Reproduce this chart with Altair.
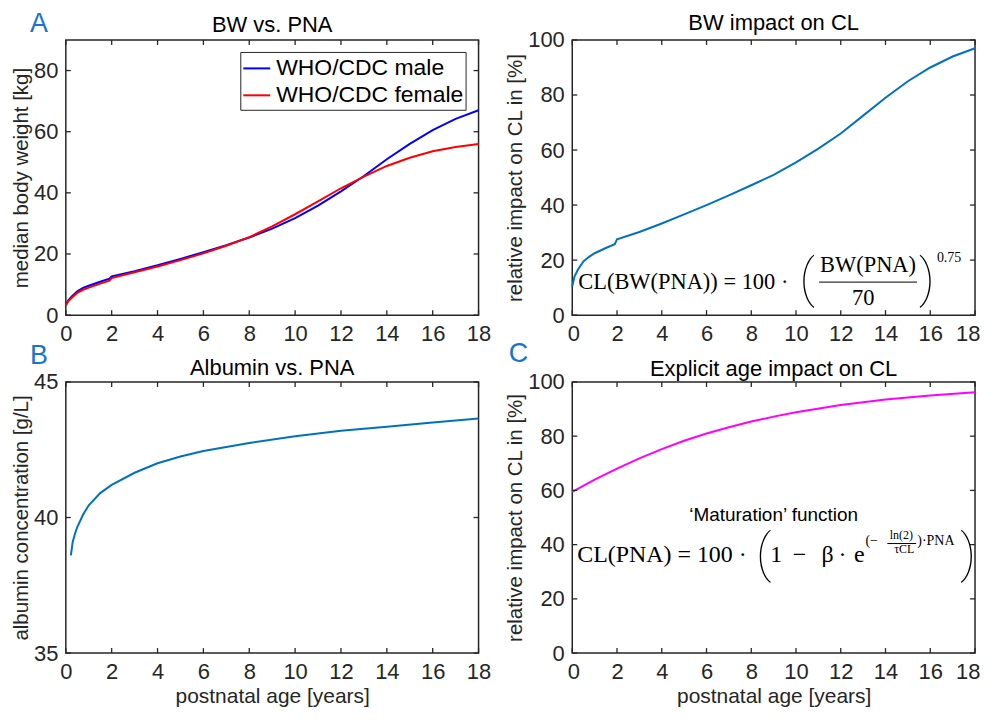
import altair as alt
import pandas as pd

# ---------------- data ----------------
ages_bw = [0, 0.1, 0.25, 0.5, 0.75, 1, 1.5, 1.9, 2, 3, 4, 5, 6, 7, 8, 9, 10, 11, 12, 13, 14, 15, 16, 17, 18]
bw_male = [3.3, 4.8, 6.0, 7.8, 8.9, 9.6, 10.9, 11.9, 12.7, 14.4, 16.3, 18.4, 20.6, 22.9, 25.4, 28.3, 31.7,
           35.8, 40.5, 45.5, 51.0, 56.0, 60.5, 64.2, 67.0]
bw_female = [3.2, 4.5, 5.6, 7.3, 8.3, 9.0, 10.3, 11.3, 12.1, 14.0, 15.9, 18.0, 20.2, 22.7, 25.5, 29.0, 33.0,
             37.2, 41.5, 45.3, 48.8, 51.5, 53.6, 55.0, 56.0]
cl_bw = [10.5, 14.0, 16.5, 19.5, 21.2, 22.5, 24.4, 25.8, 27.6, 30.2, 33.3, 36.6, 40.0, 43.5, 47.2, 51.0, 55.5,
         60.5, 66.0, 72.5, 79.0, 85.0, 90.0, 94.0, 97.0]

ages_alb = [0.22, 0.3, 0.4, 0.5, 0.75, 1, 1.5, 2, 3, 4, 5, 6, 8, 10, 12, 14, 16, 18]
albumin = [38.6, 39.1, 39.4, 39.65, 40.1, 40.45, 40.9, 41.2, 41.65, 42.0, 42.25, 42.45, 42.75, 43.0, 43.2,
           43.35, 43.5, 43.65]

ages_mat = [0, 1, 2, 3, 4, 5, 6, 7, 8, 9, 10, 12, 14, 16, 18]
cl_mat = [59.5, 64.0, 68.0, 71.8, 75.2, 78.3, 81.0, 83.3, 85.4, 87.2, 88.8, 91.5, 93.5, 95.0, 96.2]

series_names = ["WHO/CDC male", "WHO/CDC female"]
series_colors = ["#0000FF", "#FF0000"]

x_ticks = [0, 2, 4, 6, 8, 10, 12, 14, 16, 18]
yticks_A = [0, 20, 40, 60, 80]
yticks_pct = [0, 20, 40, 60, 80, 100]
yticks_B = [35, 40, 45]

panel_titles = ["BW vs. PNA", "BW impact on CL", "Albumin vs. PNA", "Explicit age impact on CL"]
panel_letters = ["A", "B", "C"]

SANS = "Liberation Sans"
SERIF = "Liberation Serif"
PAREN = "Roboto"
DARK = "#262626"
LETTER = "#1874CD"
LINE_BLUE = "#0072BD"
MAGENTA = "#FF00FF"

LW, RW = 414, 404
H_TOP, H_BOT = 276, 272
TICK = 5
FS = 22


def xs():
    return alt.Scale(domain=[0, 18], nice=False)


def ys(dom):
    return alt.Scale(domain=dom, nice=False, zero=False)


def tick_layers(yticks, ydom, w, h):
    xt = pd.DataFrame({"age": x_ticks})
    yt = pd.DataFrame({"val": yticks})
    base_x = alt.Chart(xt).mark_rule(color=DARK, strokeWidth=1.3)
    base_y = alt.Chart(yt).mark_rule(color=DARK, strokeWidth=1.3)
    return [
        base_x.encode(x=alt.X("age:Q", scale=xs()), y=alt.value(0), y2=alt.value(TICK)),
        base_x.encode(x=alt.X("age:Q", scale=xs()), y=alt.value(h - TICK), y2=alt.value(h)),
        base_y.encode(y=alt.Y("val:Q", scale=ys(ydom)), x=alt.value(0), x2=alt.value(TICK)),
        base_y.encode(y=alt.Y("val:Q", scale=ys(ydom)), x=alt.value(w - TICK), x2=alt.value(w)),
    ]


def letter_layer(letter, dx, dy):
    return alt.Chart(pd.DataFrame({"t": [letter]})).mark_text(
        font=SANS, fontSize=27, color=LETTER, align="center", baseline="middle"
    ).encode(text="t:N", x=alt.value(dx), y=alt.value(dy))


def title_layer(title, w, dy):
    return alt.Chart(pd.DataFrame({"t": [title]})).mark_text(
        font=SANS, fontSize=FS, color="black", align="center", baseline="middle"
    ).encode(text="t:N", x=alt.value(w / 2), y=alt.value(dy))


def text_layer(df, align, font, ydom, weight="normal"):
    return alt.Chart(df).mark_text(font=font, align=align, baseline="middle", color="black",
                                   fontWeight=weight).encode(
        x=alt.X("age:Q", scale=xs()),
        y=alt.Y("val:Q", scale=ys(ydom)),
        text="txt:N",
        size=alt.Size("fs:Q", scale=None, legend=None),
    )


def rule_layer(df, ydom):
    return alt.Chart(df).mark_rule(color="black", strokeWidth=1).encode(
        x=alt.X("age:Q", scale=xs()),
        x2="age2:Q",
        y=alt.Y("val:Q", scale=ys(ydom)),
    )


def xaxis(title, flush=False):
    kw = dict(values=x_ticks, labelPadding=8, format="d", labelFlush=flush)
    if flush:
        kw["labelFlushOffset"] = 5
    if title:
        kw["title"] = title
        kw["titlePadding"] = 4
        kw["titleFontSize"] = 21
    else:
        kw["title"] = None
    return alt.Axis(**kw)


def yaxis(values, title):
    return alt.Axis(values=values, title=title, labelPadding=8, titlePadding=2, format="d", labelFlush=False)


# ---------------- Panel A ----------------
dfA = pd.DataFrame({
    "age": ages_bw * 2,
    "val": bw_male + bw_female,
    "series": [series_names[0]] * len(ages_bw) + [series_names[1]] * len(ages_bw),
    "order": list(range(len(ages_bw))) * 2,
})
domA = [0, 90]
lineA = alt.Chart(dfA).mark_line(strokeWidth=2).encode(
    x=alt.X("age:Q", scale=xs(), axis=xaxis(None)),
    y=alt.Y("val:Q", scale=ys(domA), axis=yaxis(yticks_A, "median body weight [kg]")),
    color=alt.Color("series:N", scale=alt.Scale(domain=series_names, range=series_colors),
                    legend=alt.Legend(title=None, orient="none", legendX=175, legendY=12, strokeColor=DARK,
                                      fillColor="white", padding=2, labelFontSize=23, labelFont=SANS,
                                      labelColor="black", labelLimit=400, symbolType="stroke",
                                      symbolSize=729, symbolStrokeWidth=2, rowPadding=0, labelOffset=5)),
    order="order:Q",
)
panelA = alt.layer(lineA, *tick_layers(yticks_A, domA, LW, H_TOP), title_layer(panel_titles[0], LW, -15),
                   letter_layer(panel_letters[0], -27, -16)).properties(width=LW, height=H_TOP)

# ---------------- Panel BW impact ----------------
domP = [0, 100]
dfP = pd.DataFrame({"age": ages_bw, "val": cl_bw})
lineP = alt.Chart(dfP).mark_line(strokeWidth=2, color=LINE_BLUE).encode(
    x=alt.X("age:Q", scale=xs(), axis=xaxis(None, flush=True)),
    y=alt.Y("val:Q", scale=ys(domP), axis=yaxis(yticks_pct, "relative impact on CL in [%]")),
)
eqP_left = pd.DataFrame({"age": [0.27], "val": [12.0], "txt": ["CL(BW(PNA)) = 100 ·"], "fs": [22.5]})
eqP_center = pd.DataFrame({
    "age": [13.22, 13.0, 16.84],
    "val": [18.3, 6.3, 20.7],
    "txt": ["BW(PNA)", "70", "0.75"],
    "fs": [22.5, 22.5, 14],
})
eqP_paren = pd.DataFrame({"age": [10.5, 15.85], "val": [12.9, 12.9], "txt": ["(", ")"], "fs": [52, 52]})
eqP_rule = pd.DataFrame({"age": [11.03], "age2": [15.41], "val": [12.0]})
panelP = alt.layer(
    lineP, *tick_layers(yticks_pct, domP, RW, H_TOP),
    text_layer(eqP_left, "left", SERIF, domP),
    text_layer(eqP_center, "center", SERIF, domP),
    text_layer(eqP_paren, "center", PAREN, domP, weight=100),
    rule_layer(eqP_rule, domP),
    title_layer(panel_titles[1], RW, -17),
).properties(width=RW, height=H_TOP)

# ---------------- Panel B ----------------
domB = [35, 45]
dfB = pd.DataFrame({"age": ages_alb, "val": albumin})
lineB = alt.Chart(dfB).mark_line(strokeWidth=2, color=LINE_BLUE).encode(
    x=alt.X("age:Q", scale=xs(), axis=xaxis("postnatal age [years]")),
    y=alt.Y("val:Q", scale=ys(domB), axis=yaxis(yticks_B, "albumin concentration [g/L]")),
)
panelB = alt.layer(lineB, *tick_layers(yticks_B, domB, LW, H_BOT), title_layer(panel_titles[2], LW, -14),
                   letter_layer(panel_letters[1], -27, -26)).properties(width=LW, height=H_BOT)

# ---------------- Panel C ----------------
dfC = pd.DataFrame({"age": ages_mat, "val": cl_mat})
lineC = alt.Chart(dfC).mark_line(strokeWidth=2, color=MAGENTA).encode(
    x=alt.X("age:Q", scale=xs(), axis=xaxis("postnatal age [years]", flush=True)),
    y=alt.Y("val:Q", scale=ys(domP), axis=yaxis(yticks_pct, "relative impact on CL in [%]")),
)
eqC_sans = pd.DataFrame({"age": [9.0], "val": [51.0], "txt": ["‘Maturation’ function"], "fs": [19]})
eqC_left = pd.DataFrame({
    "age": [0.22, 13.10, 15.42],
    "val": [36.1, 41.5, 41.5],
    "txt": ["CL(PNA) = 100 ·", "(−", ")·PNA"],
    "fs": [24, 14, 14],
})
eqC_center = pd.DataFrame({
    "age": [9.12, 10.16, 11.41, 12.08, 12.83, 14.71, 14.84],
    "val": [36.1, 36.1, 36.1, 36.1, 36.1, 43.5, 38.3],
    "txt": ["1", "−", "β", "·", "e", "ln(2)", "τCL"],
    "fs": [24, 24, 24, 24, 24, 12, 12],
})
eqC_paren = pd.DataFrame({"age": [8.55, 17.69], "val": [36.0, 36.0], "txt": ["(", ")"], "fs": [52, 52]})
eqC_rule = pd.DataFrame({"age": [14.08], "age2": [15.37], "val": [40.4]})
panelC = alt.layer(
    lineC, *tick_layers(yticks_pct, domP, RW, H_BOT),
    text_layer(eqC_sans, "center", SANS, domP),
    text_layer(eqC_left, "left", SERIF, domP),
    text_layer(eqC_center, "center", SERIF, domP),
    text_layer(eqC_paren, "center", PAREN, domP, weight=100),
    rule_layer(eqC_rule, domP),
    title_layer(panel_titles[3], RW, -13),
    letter_layer(panel_letters[2], -54, -28),
).properties(width=RW, height=H_BOT)

chart = alt.concat(panelA, panelP, panelB, panelC, columns=2, spacing={"row": 67, "column": 94},
                   bounds="flush").resolve_scale(color="independent").properties(
    padding={"left": 2, "top": 0, "right": 0, "bottom": 1}
).configure_view(
    stroke=DARK, strokeWidth=1.5
).configure_axis(
    domain=False, ticks=False, grid=False,
    labelFont=SANS, labelFontSize=FS, labelColor=DARK,
    titleFont=SANS, titleFontSize=FS, titleFontWeight="normal", titleColor=DARK,
).configure_axisY(
    titleFontSize=20.5
)

chart.save("out.html", embed_options={"renderer": "svg", "actions": False})
